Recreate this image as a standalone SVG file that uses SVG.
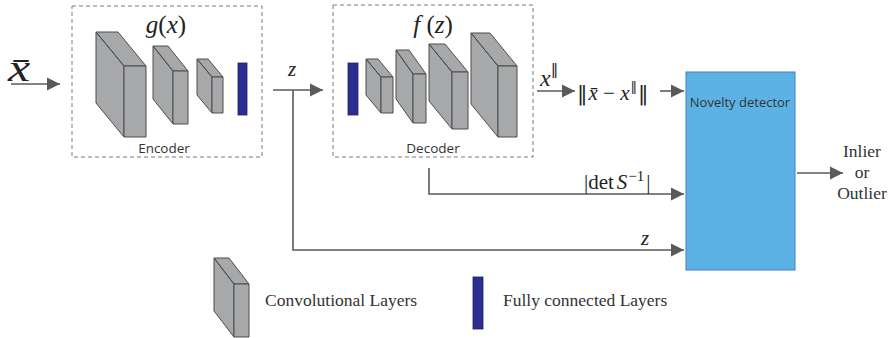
<svg xmlns="http://www.w3.org/2000/svg" width="889" height="338" viewBox="0 0 889 338">
<style>
.box{fill:none;stroke:#7a7a7a;stroke-width:1;stroke-dasharray:4 3}
.blk{fill:#a7a8aa;stroke:#4d4d4d;stroke-width:1;stroke-linejoin:round}
.fc{fill:#2b2e8f;stroke:#1c1f6b;stroke-width:0.8}
.cn{fill:none;stroke:#5a5a5a;stroke-width:1.6}
.math{font-family:"Liberation Serif",serif;fill:#222}
.dj{font-family:"DejaVu Serif",serif;font-style:normal}
.it{font-style:italic}
.sans{font-family:"Open Sans","Liberation Sans",sans-serif;fill:#333}
.ser{font-family:"Liberation Serif",serif;fill:#333}
</style>
<defs>
<marker id="ah" markerUnits="userSpaceOnUse" markerWidth="14" markerHeight="14" refX="13" refY="7" orient="auto">
<path d="M0,0.5 L13,7 L0,13.5 z" fill="#5a5a5a"/>
</marker>
</defs>

<g id="input">
<text class="math it" transform="translate(8,81) scale(1.35,1)" x="0" y="0" font-size="37">x̄</text>
</g>

<g id="encoder">
<rect class="box" x="72" y="6" width="190" height="151"/>
<text class="math" x="166" y="33" font-size="25" text-anchor="middle"><tspan class="it">g</tspan>(<tspan class="it">x</tspan>)</text>
<path class="blk" d="M96,32 H118 L146,66 H124 Z M96,32 L124,66 V137 L96,103 Z"/>
<rect class="blk" x="124" y="66" width="22" height="71"/>
<path class="blk" d="M153,46 H168 L188,71 H173 Z M153,46 L173,71 V124 L153,99 Z"/>
<rect class="blk" x="173" y="71" width="15" height="53"/>
<path class="blk" d="M197,59 H208 L223,77 H212 Z M197,59 L212,77 V113 L197,95 Z"/>
<rect class="blk" x="212" y="77" width="11" height="36"/>
<rect class="fc" x="238" y="63" width="9" height="52"/>
<text class="sans" x="164" y="153" font-size="13.5" text-anchor="middle">Encoder</text>
</g>

<g id="decoder">
<rect class="box" x="333" y="5" width="200" height="152"/>
<text class="math" x="433" y="33" font-size="25" text-anchor="middle"><tspan class="it">f</tspan> (<tspan class="it">z</tspan>)</text>
<rect class="fc" x="348" y="63" width="10" height="52"/>
<path class="blk" d="M366,59 H378 L393,77 H381 Z M366,59 L381,77 V113 L366,95 Z"/>
<rect class="blk" x="381" y="77" width="12" height="36"/>
<path class="blk" d="M396,50 H409 L426,74 H413 Z M396,50 L413,74 V123 L396,99 Z"/>
<rect class="blk" x="413" y="74" width="13" height="49"/>
<path class="blk" d="M429,44 H445 L468,72 H452 Z M429,44 L452,72 V129 L429,101 Z"/>
<rect class="blk" x="452" y="72" width="16" height="57"/>
<path class="blk" d="M471,33 H490 L517,66 H498 Z M471,33 L498,66 V137 L471,104 Z"/>
<rect class="blk" x="498" y="66" width="19" height="71"/>
<text class="sans" x="433" y="153" font-size="13.5" text-anchor="middle">Decoder</text>
</g>

<g id="novelty-detector">
<rect x="686" y="72" width="109" height="198" fill="#5db2e5" stroke="#3f7fc6" stroke-width="1"/>
<text class="sans" x="740" y="107" font-size="13" text-anchor="middle" fill="#1f2a44">Novelty detector</text>
</g>

<g id="output">
<text class="ser" x="862" y="157" font-size="17.5" text-anchor="middle">Inlier</text>
<text class="ser" x="862" y="178" font-size="17.5" text-anchor="middle">or</text>
<text class="ser" x="862" y="199" font-size="17.5" text-anchor="middle">Outlier</text>
</g>

<g id="connectors">
<line class="cn" x1="11" y1="84" x2="60" y2="84" marker-end="url(#ah)"/>
<line class="cn" x1="273" y1="90" x2="323" y2="90" marker-end="url(#ah)"/>
<path class="cn" d="M293,90 V250 H684" marker-end="url(#ah)"/>
<line class="cn" x1="537" y1="91" x2="575" y2="91" marker-end="url(#ah)"/>
<line class="cn" x1="660" y1="91" x2="684" y2="91" marker-end="url(#ah)"/>
<path class="cn" d="M429,168 V194 H684" marker-end="url(#ah)"/>
<line class="cn" x1="797" y1="173" x2="843" y2="173" marker-end="url(#ah)"/>
</g>

<g id="labels">
<text class="math it" x="288" y="76" font-size="21">z</text>
<text class="math" x="540" y="86" font-size="24"><tspan class="it">x</tspan><tspan class="dj" font-size="15" dy="-12">‖</tspan></text>
<text class="math" x="577" y="100" font-size="21" xml:space="preserve"><tspan class="dj">‖</tspan><tspan class="it" dx="1">x̄</tspan> − <tspan class="it">x</tspan><tspan class="dj" font-size="13" dy="-9" dx="1">‖</tspan><tspan class="dj" dy="9" dx="1">‖</tspan></text>
<text class="math" x="584" y="189" font-size="21">|det<tspan class="it" dx="3">S</tspan><tspan font-size="15" dy="-8" dx="1">−1</tspan><tspan dy="8" dx="2">|</tspan></text>
<text class="math it" x="641" y="245" font-size="21">z</text>
</g>

<g id="legend">
<path class="blk" d="M214,258 H229 L249,284 H234 Z M214,258 L234,284 V337 L214,311 Z"/>
<rect class="blk" x="234" y="284" width="15" height="53"/>
<text class="ser" x="265" y="306" font-size="17.5">Convolutional Layers</text>
<rect class="fc" x="473" y="277" width="10" height="52"/>
<text class="ser" x="503" y="306" font-size="17.5">Fully connected Layers</text>
</g>
</svg>
